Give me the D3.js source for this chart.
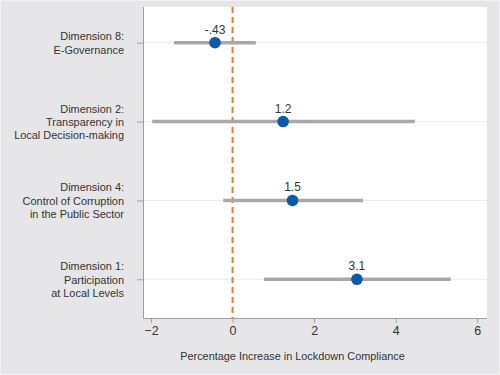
<!DOCTYPE html>
<html><head><meta charset="utf-8">
<script src="https://cdn.jsdelivr.net/npm/d3@7"></script>
<style>
html,body{margin:0;padding:0;background:#e6e6e8;}
svg{display:block;font-family:"Liberation Sans",Arial,sans-serif;}
</style></head>
<body>
<svg id="c" width="500" height="375"></svg>
<script>
const categories = [
  ["Dimension 8:", "E-Governance"],
  ["Dimension 2:", "Transparency in", "Local Decision-making"],
  ["Dimension 4:", "Control of Corruption", "in the Public Sector"],
  ["Dimension 1:", "Participation", "at Local Levels"]
];
const estimates = [-0.43, 1.24, 1.47, 3.05];
const estimateLabels = ["-.43", "1.2", "1.5", "3.1"];
const ciLow = [-1.44, -1.97, -0.23, 0.77];
const ciHigh = [0.57, 4.47, 3.2, 5.35];
const xTicks = [-2, 0, 2, 4, 6];
const xTitle = "Percentage Increase in Lockdown Compliance";

const svg = d3.select("#c");
const W = 500, H = 375;
const L = 143, R = 487, T = 7, B = 318;

svg.append("rect").attr("x",0).attr("y",0).attr("width",W).attr("height",H).attr("fill","#e6e6e8");
svg.append("rect").attr("x",0.5).attr("y",0.5).attr("width",W-1).attr("height",H-1).attr("fill","none").attr("stroke","#f2f2f3").attr("stroke-width",1);
svg.append("rect").attr("x",L).attr("y",T).attr("width",R-L).attr("height",B-T).attr("fill","#ffffff");

const x = d3.scaleLinear().domain([-2.196, 6.24]).range([L, R]);
const idx = d3.range(categories.length);
const y = d3.scalePoint().domain(idx).range([42.7, 279.3]);

// fit a font size so a text has a target width
function fitSize(str, target, base) {
  const t = svg.append("text").attr("font-size", base).text(str);
  const w = t.node().getComputedTextLength();
  t.remove();
  return base * target / w;
}
const labelSize = Math.min(12.5, fitSize("Local Decision-making", 110, 12));
const titleSize = Math.min(12.5, fitSize(xTitle, 225, 12));

// gridlines
svg.append("g").selectAll("line").data(idx).join("line")
  .attr("x1", L).attr("x2", R)
  .attr("y1", d => y(d)).attr("y2", d => y(d))
  .attr("stroke", "#ececee").attr("stroke-width", 1);

// axes
const xAxis = d3.axisBottom(x).tickValues(xTicks).tickSize(5).tickPadding(3).tickFormat(d3.format("d"));
const gx = svg.append("g").attr("transform", `translate(0,${B})`).call(xAxis);
gx.select(".domain").attr("stroke", "#a0a0a0").attr("d", `M${L},0.5H${R}`);
gx.selectAll(".tick line").attr("stroke", "#a0a0a0");
gx.selectAll(".tick text").attr("fill", "#333").attr("font-size", 12.5)
  .attr("font-family", "'Liberation Sans', Arial, sans-serif");

const yAxis = d3.axisLeft(y).tickSize(6).tickFormat("");
const gy = svg.append("g").attr("transform", `translate(${L},0)`).call(yAxis);
gy.select(".domain").attr("stroke", "#a0a0a0").attr("d", `M0.5,${T}V${B}`);
gy.selectAll(".tick line").attr("stroke", "#a0a0a0");

// category labels
const lh = 13.3;
const lab = svg.append("g").selectAll("text").data(idx).join("text")
  .attr("x", 124).attr("text-anchor", "end")
  .attr("font-size", labelSize).attr("fill", "#333");
lab.each(function(d){
  const lines = categories[d];
  const n = lines.length;
  const t = d3.select(this);
  lines.forEach((s,i) => {
    t.append("tspan").attr("x", 124)
      .attr("y", y(d) + (i - (n-1)/2) * lh + 4.3)
      .text(s);
  });
});

// zero line
svg.append("line")
  .attr("x1", x(0)).attr("x2", x(0)).attr("y1", T).attr("y2", B)
  .attr("stroke", "#e8782a").attr("stroke-width", 2).attr("stroke-dasharray", "6,4");

// CI bars
svg.append("g").selectAll("line").data(idx).join("line")
  .attr("x1", d => x(ciLow[d])).attr("x2", d => x(ciHigh[d]))
  .attr("y1", d => y(d)).attr("y2", d => y(d))
  .attr("stroke", "#a8a8a8").attr("stroke-width", 3.5);

// points
svg.append("g").selectAll("circle").data(idx).join("circle")
  .attr("cx", d => x(estimates[d])).attr("cy", d => y(d)).attr("r", 5.8)
  .attr("fill", "#0b5aa7");

// value labels
svg.append("g").selectAll("text").data(idx).join("text")
  .attr("x", d => x(estimates[d])).attr("y", d => y(d) - 9)
  .attr("text-anchor", "middle").attr("font-size", 12).attr("fill", "#333")
  .text(d => estimateLabels[d]);

// x title
svg.append("text").attr("x", 292.5).attr("y", 360).attr("text-anchor", "middle")
  .attr("font-size", titleSize).attr("fill", "#333").text(xTitle);
</script>
</body></html>
